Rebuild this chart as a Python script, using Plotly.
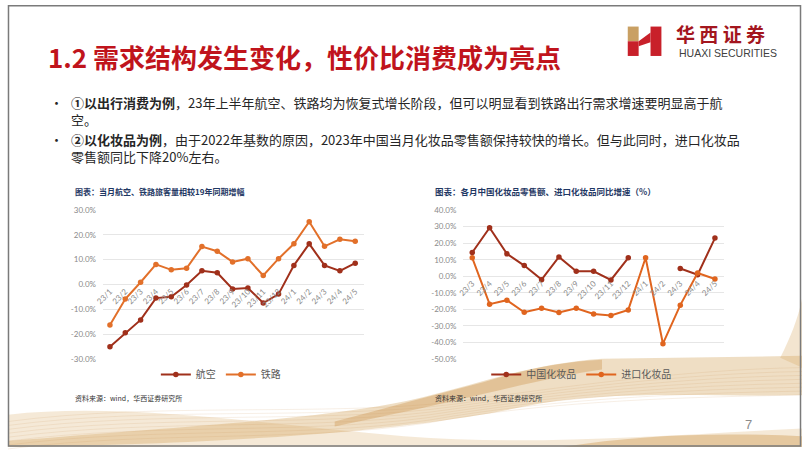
import plotly.graph_objects as go

W, H = 802, 451

# ---------------- data ----------------
months_left = ["23/1", "23/2", "23/3", "23/4", "23/5", "23/6", "23/7", "23/8", "23/9",
               "23/10", "23/11", "23/12", "24/1", "24/2", "24/3", "24/4", "24/5"]
air = [-25.1, -19.5, -14.3, -5.5, -5.0, -0.2, 5.5, 4.7, -1.8, -1.4, -7.5, -3.9,
       7.7, 16.4, 7.7, 5.5, 8.6]
rail = [-16.4, -5.9, 0.9, 8.1, 5.9, 6.5, 15.3, 13.4, 9.1, 10.4, 3.6, 10.4,
        16.4, 25.3, 15.4, 18.2, 17.4]

months_right = ["23/3", "23/4", "23/5", "23/6", "23/7", "23/8", "23/9", "23/10", "23/11",
                "23/12", "24/1", "24/2", "24/3", "24/4", "24/5"]
china_cos = [14.4, 29.4, 13.6, 6.5, -2.0, 11.7, 3.0, 3.0, -2.2, 11.2,
             None, None, 4.7, 1.0, 23.1]
import_cos = [11.2, -16.8, -14.4, -21.7, -19.3, -21.9, -19.3, -22.7, -23.7, -20.3,
              11.2, -40.7, -17.4, 2.0, -1.6]

left_ticks = [-30, -20, -10, 0, 10, 20, 30]
right_ticks = [-50, -40, -30, -20, -10, 0, 10, 20, 30, 40]

DARK = "#A0301B"
ORANGE = "#E2702A"
ORANGE2 = "#E0651F"


def px(x):
    return x / W


def py(y):
    return 1 - y / H


fig = go.Figure()

mk = dict(size=5.5)
fig.add_trace(go.Scatter(x=months_left, y=air, name="航空", mode="lines+markers",
                         line=dict(color=DARK, width=2), marker=dict(color=DARK, **mk),
                         xaxis="x", yaxis="y", legend="legend"))
fig.add_trace(go.Scatter(x=months_left, y=rail, name="铁路", mode="lines+markers",
                         line=dict(color=ORANGE, width=2), marker=dict(color=ORANGE, **mk),
                         xaxis="x", yaxis="y", legend="legend"))
fig.add_trace(go.Scatter(x=months_right, y=china_cos, name="中国化妆品", mode="lines+markers",
                         line=dict(color=DARK, width=2), marker=dict(color=DARK, **mk),
                         connectgaps=False, xaxis="x2", yaxis="y2", legend="legend2"))
fig.add_trace(go.Scatter(x=months_right, y=import_cos, name="进口化妆品", mode="lines+markers",
                         line=dict(color=ORANGE2, width=2), marker=dict(color=ORANGE2, **mk),
                         xaxis="x2", yaxis="y2", legend="legend2"))

tickfont = dict(family="Lato, Open Sans, sans-serif", size=8, color="#8a8a8a")
grid = "#e6e6e6"

# left chart geometry (pixels)
L_x0, L_x1 = 96, 360
L_ytop, L_ybot = 209.3, 361.0  # 30% and -30%
lppu = (L_ybot - L_ytop) / 60.0
L_zero = L_ytop + 30 * lppu
ext = 0.4
fig.update_layout(
    xaxis=dict(domain=[px(L_x0), px(L_x1)], type="category", range=[-0.45, 16.6],
               anchor="free", position=py(L_zero), showgrid=False, showline=False,
               zeroline=False, ticks="", tickangle=-45, tickfont=tickfont),
    yaxis=dict(domain=[py(L_ybot + ext * lppu), py(L_ytop - ext * lppu)],
               range=[-30 - ext, 30 + ext], anchor="x", tickvals=left_ticks,
               ticktext=[f"{v:.1f}%" for v in left_ticks], showgrid=True,
               gridcolor=grid, gridwidth=1, zeroline=False, showline=False,
               ticks="", tickfont=tickfont, ticklabelstandoff=6),
)

# right chart geometry
R_x0, R_x1 = 460, 723
R_ytop, R_ybot = 209.3, 361.3  # 40% and -50%
rppu = (R_ybot - R_ytop) / 90.0
R_zero = R_ytop + 40 * rppu
fig.update_layout(
    xaxis2=dict(domain=[px(R_x0), px(R_x1)], type="category", range=[-0.51, 14.51],
                anchor="free", position=py(R_zero), showgrid=False, showline=False,
                zeroline=False, ticks="", tickangle=-45, tickfont=tickfont),
    yaxis2=dict(domain=[py(R_ybot + ext * rppu), py(R_ytop - ext * rppu)],
                range=[-50 - ext, 40 + ext], anchor="x2", tickvals=right_ticks,
                ticktext=[f"{v:.1f}%" for v in right_ticks], showgrid=True,
                gridcolor=grid, gridwidth=1, zeroline=False, showline=False,
                ticks="", tickfont=tickfont, ticklabelstandoff=6),
)

legfont = dict(family="Noto Sans CJK SC, sans-serif", size=10, color="#595959")
fig.update_layout(
    legend=dict(orientation="h", x=px(215), y=py(377), xanchor="center", yanchor="middle",
                font=legfont, bgcolor="rgba(0,0,0,0)", itemwidth=30, itemclick=False),
    legend2=dict(orientation="h", x=px(579), y=py(377), xanchor="center", yanchor="middle",
                 font=legfont, bgcolor="rgba(0,0,0,0)", itemwidth=30, itemclick=False),
)

shapes = []


def pt(x, y):
    return f"{px(x):.5f},{py(y):.5f}"


def path(cmds):
    out = []
    for c in cmds:
        if isinstance(c, str):
            out.append(c)
        else:
            out.append(pt(*c))
    return " ".join(out)


# decorative background waves
shapes.append(dict(type="path", xref="paper", yref="paper", layer="below",
                   path=path(["M", (0, 451), "L", (0, 418), "C", (120, 405), (260, 428), (400, 440),
                              "C", (520, 450), (650, 440), (802, 432), "L", (802, 451), "Z"]),
                   fillcolor="rgba(228,196,150,0.38)", line=dict(width=0)))
shapes.append(dict(type="path", xref="paper", yref="paper", layer="below",
                   path=path(["M", (0, 445), "C", (200, 428), (330, 422), (420, 400),
                              "C", (480, 385), (530, 366), (600, 361), "L", (802, 358),
                              "L", (802, 398), "C", (700, 400), (600, 392), (520, 410),
                              "C", (450, 425), (300, 447), (0, 451), "Z"]),
                   fillcolor="rgba(214,168,100,0.38)", line=dict(width=0)))
shapes.append(dict(type="path", xref="paper", yref="paper", layer="below",
                   path=path(["M", (330, 425), "C", (380, 412), (430, 398), (480, 385),
                              "C", (520, 372), (560, 364), (600, 362),
                              "L", (600, 372), "C", (540, 380), (470, 402), (330, 430), "Z"]),
                   fillcolor="rgba(205,150,80,0.38)", line=dict(width=0)))
shapes.append(dict(type="path", xref="paper", yref="paper", layer="below",
                   path=path(["M", (560, 451), "C", (640, 438), (720, 436), (802, 440),
                              "L", (802, 451), "Z"]),
                   fillcolor="rgba(210,160,90,0.45)", line=dict(width=0)))
shapes.append(dict(type="path", xref="paper", yref="paper", layer="below",
                   path=path(["M", (780, 360), "C", (790, 340), (798, 320), (802, 300),
                              "L", (802, 370), "Z"]),
                   fillcolor="rgba(214,168,100,0.3)", line=dict(width=0)))
for k in range(8):
    d = k * 4
    shapes.append(dict(type="path", xref="paper", yref="paper", layer="below",
                       path=path(["M", (0, 425 + d), "C", (150, 405 + d), (320, 420 + d), (450, 405 + d * 0.6),
                                  "C", (560, 390 + d * 0.5), (680, 372 + d), (802, 370 + d)]),
                       line=dict(color="rgba(200,150,85,0.25)", width=0.6)))

# slide border
shapes.append(dict(type="rect", xref="paper", yref="paper", x0=px(0.5), x1=px(800.5),
                   y0=py(450), y1=py(0.8), line=dict(color="#7a7a7a", width=1.5),
                   fillcolor="rgba(0,0,0,0)"))

# logo H mark
shapes.append(dict(type="path", xref="paper", yref="paper",
                   path=path(["M", (626, 22), "L", (637, 22), "L", (637, 37), "L", (626, 37), "Z"]),
                   fillcolor="#C9A063", line=dict(width=0)))
shapes.append(dict(type="path", xref="paper", yref="paper",
                   path=path(["M", (626, 37), "L", (637, 37), "L", (637, 52), "L", (626, 52), "Z"]),
                   fillcolor="#C8202A", line=dict(width=0)))
shapes.append(dict(type="path", xref="paper", yref="paper",
                   path=path(["M", (637, 37), "L", (649, 28), "L", (649, 38), "L", (637, 42), "Z"]),
                   fillcolor="#C8202A", line=dict(width=0)))
shapes.append(dict(type="path", xref="paper", yref="paper",
                   path=path(["M", (649, 22), "L", (660, 22), "L", (660, 52), "L", (649, 52), "Z"]),
                   fillcolor="#C8202A", line=dict(width=0)))

fig.update_layout(shapes=shapes)

ann = []


def text(x, y, s, size, color, xanchor="left", family="Noto Sans CJK SC, sans-serif", **kw):
    ann.append(dict(x=px(x), y=py(y), xref="paper", yref="paper", text=s, showarrow=False,
                    xanchor=xanchor, yanchor="middle", align="left",
                    font=dict(size=size, color=color, family=family), **kw))


text(38, 53, "<b>1.2 需求结构发生变化，性价比消费成为亮点</b>", 26, "#C0141C")
text(673, 29, "<b>华 西 证 券</b>", 19, "#A3161E")
text(676, 49, "HUAXI SECURITIES", 10.5, "#404040", family="Liberation Sans, Arial, sans-serif")

body = "#262626"
text(40, 99, "•", 13, body)
text(62, 108, "<b>①以出行消费为例</b>，23年上半年航空、铁路均为恢复式增长阶段，但可以明显看到铁路出行需求增速要明显高于航"
     "<br>空。", 13, body)
text(40, 137, "•", 13, body)
text(62, 146, "<b>②以化妆品为例</b>，由于2022年基数的原因，2023年中国当月化妆品零售额保持较快的增长。但与此同时，进口化妆品"
     "<br>零售额同比下降20%左右。", 13, body)

navy = "#1F3864"
text(66, 190, "<b>图表：当月航空、铁路旅客量相较19年同期增幅</b>", 8, navy)
text(429, 190, "<b>图表：各月中国化妆品零售额、进口化妆品同比增速（%）</b>", 8.5, navy)
text(66, 401, "资料来源：wind，华西证券研究所", 7, "#333333")
text(429, 401, "资料来源：wind，华西证券研究所", 7, "#333333")
text(748, 428, "7", 13, "#8c8c8c", xanchor="center", family="Liberation Sans, sans-serif")

fig.update_layout(annotations=ann, width=W, height=H,
                  margin=dict(l=0, r=0, t=0, b=0, pad=0),
                  paper_bgcolor="white", plot_bgcolor="rgba(0,0,0,0)",
                  font=dict(family="Noto Sans CJK SC, sans-serif"))

fig.write_html("out.html")
